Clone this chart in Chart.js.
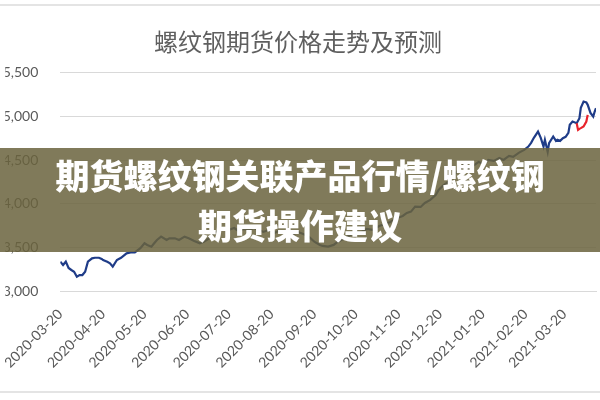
<!DOCTYPE html>
<html><head><meta charset="utf-8">
<script src="https://cdn.jsdelivr.net/npm/chart.js@4.4.1/dist/chart.umd.min.js"></script>
<style>
html,body{margin:0;padding:0;background:#fff;}
#wrap{position:relative;width:600px;height:400px;overflow:hidden;}
#c{position:absolute;left:0;top:0;}
.rule{position:absolute;left:0;width:600px;height:2px;background:#e4e4e4;}
#banner{position:absolute;left:0;top:148px;width:600px;height:104px;background:rgba(106,99,61,0.85);
 color:#fff;font-family:"Noto Sans CJK SC",sans-serif;font-weight:900;font-size:34px;line-height:50px;text-align:center;
 display:flex;flex-direction:column;justify-content:center;}
</style></head>
<body>
<div id="wrap">
<div class="rule" style="top:4px"></div>
<canvas id="c" width="600" height="400"></canvas>
<div class="rule" style="top:391px"></div>
<div id="banner"><div>期货螺纹钢关联产品行情/螺纹钢</div><div>期货操作建议</div></div>
</div>
<script>
const chartTitle = "螺纹钢期货价格走势及预测";
const startDate = "2020-03-20";
const tickDates = ["2020-03-20","2020-04-20","2020-05-20","2020-06-20","2020-07-20","2020-08-20","2020-09-20","2020-10-20","2020-11-20","2020-12-20","2021-01-20","2021-02-20","2021-03-20"];
// days since 2020-03-20
const actualDays = [0,2,4,6,8,10,12,14,16,18,20,23,25,28,30,31,34,36,38,41,44,48,51,54,58,61,63,66,68,70,73,77,79,83,86,90,93,97,101,104,108,111,115,119,122,126,129,133,137,140,144,147,151,155,158,162,165,169,172,176,180,184,188,190,194,198,201,206,210,213,218,222,226,231,235,239,244,248,251,254,257,261,264,268,272,274,277,280,284,287,291,293,296,300,303,307,310,314,318,321,325,328,332,336,339,341,343,346,348,350,351,353,354,357,359,360,362,364,366,368,369,371,374,376,377,379,381,382,384,386,387,388];
const actualPrices = [3336,3298,3336,3264,3241,3221,3164,3183,3183,3221,3336,3374,3381,3381,3367,3355,3336,3318,3279,3355,3381,3432,3441,3443,3490,3547,3528,3508,3547,3585,3623,3585,3604,3604,3585,3623,3604,3573,3547,3565,3604,3665,3688,3711,3700,3722,3688,3711,3700,3722,3700,3677,3700,3665,3688,3665,3642,3654,3677,3654,3623,3565,3528,3516,3508,3528,3565,3604,3642,3665,3677,3711,3700,3745,3768,3791,3837,3860,3894,3909,3967,3963,4009,4044,4101,4158,4204,4239,4296,4365,4422,4468,4411,4445,4479,4456,4502,4491,4525,4502,4548,4537,4583,4617,4655,4697,4755,4827,4755,4655,4732,4594,4694,4770,4720,4732,4720,4751,4766,4812,4904,4941,4923,4980,5099,5171,5160,5133,5041,4999,5053,5095];
const forecastDays = [374,375,376,377,379,381,382];
const forecastPrices = [4923,4846,4858,4866,4885,4941,5018];
const yMin = 3000, yMax = 5500, yStep = 500, xMax = 388;

const dayOf = s => (Date.parse(s + "T00:00:00Z") - Date.parse(startDate + "T00:00:00Z")) / 86400000;
const tickDays = tickDates.map(dayOf);
const toPts = (xs, ys) => xs.map((d, i) => ({x: d, y: ys[i]}));

new Chart(document.getElementById('c'), {
  type: 'line',
  data: {
    datasets: [
      {label: '实际', data: toPts(actualDays, actualPrices), borderColor: '#1f3c88', borderWidth: 2.2, pointRadius: 0, tension: 0, order: 2},
      {label: '预测', data: toPts(forecastDays, forecastPrices), borderColor: '#e8232b', borderWidth: 2.2, pointRadius: 0, tension: 0, order: 1}
    ]
  },
  options: {
    responsive: false, animation: false,
    layout: {padding: {top: 27, right: 4, left: 0, bottom: 0}},
    plugins: {
      legend: {display: false}, tooltip: {enabled: false},
      title: {display: true, text: chartTitle, color: '#5f5f5f', font: {family: '"Noto Sans CJK SC", sans-serif', size: 24, weight: 'normal'}, padding: {top: 0, bottom: 17}}
    },
    scales: {
      x: {
        type: 'linear', min: 0, max: xMax,
        afterBuildTicks: s => { s.ticks = tickDays.map(v => ({value: v})); },
        afterFit: s => { s.height = 109; },
        grid: {display: false},
        border: {display: true, color: '#d9d9d9', width: 1},
        ticks: {autoSkip: false, minRotation: 45, maxRotation: 45, padding: 7, color: '#595959',
          font: {family: 'Lato, sans-serif', size: 14},
          callback: v => { const i = tickDays.indexOf(v); return i >= 0 ? tickDates[i] : ''; }}
      },
      y: {
        min: yMin, max: yMax,
        afterFit: s => { s.width = 55; },
        grid: {color: '#d9d9d9', drawTicks: false, lineWidth: 1},
        border: {display: false},
        ticks: {stepSize: yStep, padding: 22, color: '#595959', font: {family: 'Lato, sans-serif', size: 14},
          callback: v => v.toLocaleString('en-US')}
      }
    }
  }
});
</script>
</body></html>
